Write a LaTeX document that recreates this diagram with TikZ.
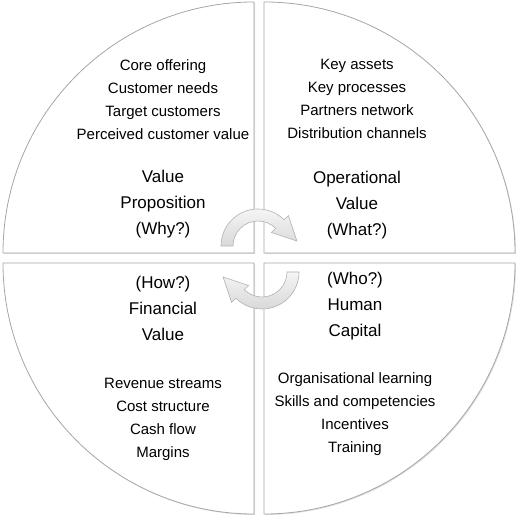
\documentclass[tikz,border=0pt]{standalone}
\usepackage{fontspec}
\setmainfont{Liberation Sans}
\usetikzlibrary{calc,shadows}
\begin{document}
\begin{tikzpicture}
[   x=1pt,y=1pt,
    quad/.style={draw=gray!70,line width=0.8pt,fill=white,drop shadow={opacity=0.25,shadow xshift=1pt,shadow yshift=-1pt}},
    items/.style={align=center,text=black,font=\fontsize{15}{23}\selectfont},
    title/.style={align=center,text=black,font=\fontsize{17}{26}\selectfont},
    turn/.style={draw=gray!60,line width=0.6pt,top color=gray!8,bottom color=gray!30},
]
    \useasboundingbox (0,0) rectangle (520,521);
    \coordinate (q-tl) at (254,268);
    \coordinate (q-tr) at (264,268);
    \coordinate (q-bl) at (254,258);
    \coordinate (q-br) at (264,258);
    \foreach \c/\a in {tl/90,tr/0,br/-90,bl/180}
    {   \draw[quad] (q-\c) -- ++(\a+90:251) arc[start angle=\a+90,delta angle=-90,radius=251] -- cycle;
    }
    % turning arrows
    \coordinate (c-up) at (258,275);
    \coordinate (c-dn) at (262,249);
    \draw[turn] ($(c-up)+(180:37)$) arc[start angle=180,end angle=45,radius=37]
        -- ($(c-up)+(45:43)$) -- ($(c-up)+(45:31)+(-45:24)$) -- ($(c-up)+(45:19)$)
        -- ($(c-up)+(45:25)$) arc[start angle=45,end angle=180,radius=25] -- cycle;
    \draw[turn] ($(c-dn)+(0:37)$) arc[start angle=0,end angle=-135,radius=37]
        -- ($(c-dn)+(-135:43)$) -- ($(c-dn)+(-135:31)+(135:24)$) -- ($(c-dn)+(-135:19)$)
        -- ($(c-dn)+(-135:25)$) arc[start angle=-135,end angle=0,radius=25] -- cycle;
    % texts
    \node[items] (vp-items) at (163,421.5) {Core offering\\Customer needs\\Target customers\\Perceived customer value};
    \node[title] (vp-title) at (163,317) {Value\\Proposition\\(Why?)};
    \node[items] (ov-items) at (357,422) {Key assets\\Key processes\\Partners network\\Distribution channels};
    \node[title] (ov-title) at (357,315.5) {Operational\\Value\\(What?)};
    \node[title] (fv-title) at (163,213) {(How?)\\Financial\\Value};
    \node[items] (fv-items) at (163,102) {Revenue streams\\Cost structure\\Cash flow\\Margins};
    \node[title] (hc-title) at (355,214.5) {(Who?)\\Human\\Capital};
    \node[items] (hc-items) at (355,106.5) {Organisational learning\\Skills and competencies\\Incentives\\Training};
\end{tikzpicture}
\end{document}
